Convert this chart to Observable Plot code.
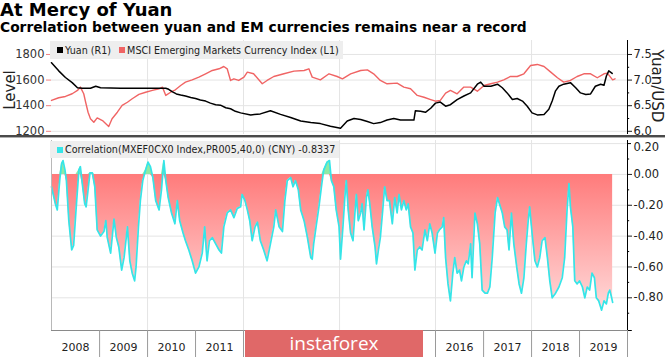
<!DOCTYPE html>
<html>
<head>
<meta charset="utf-8">
<script src="https://cdn.jsdelivr.net/npm/d3@7"></script>
<script src="https://cdn.jsdelivr.net/npm/@observablehq/plot@0.6"></script>
<style>
html,body{margin:0;padding:0;background:#fff;}
#wrap{position:relative;width:665px;height:357px;overflow:hidden;background:#fff;font-family:"DejaVu Sans",sans-serif;color:#111;}
#wrap > div{position:absolute;}
#title{left:0px;top:0px;font-weight:bold;font-size:18px;line-height:20px;white-space:nowrap;color:#000;}
#subtitle{left:0px;top:19px;font-weight:bold;font-size:13.8px;line-height:16px;white-space:nowrap;color:#000;}
.legend{background:#eeeeee;font-size:9.6px;color:#222;white-space:nowrap;display:flex;align-items:center;padding-right:4px;}
.legend span{flex-shrink:0;}
.sw{display:inline-block;width:6px;height:6px;margin:0 2px 0 7px;}
#sep1{left:0;top:135px;width:665px;height:2px;background:#4a4a4a;}
#sep2{left:0;top:137px;width:665px;height:1px;background:#b0b0b0;}
.rot{font-size:15px;color:#222;white-space:nowrap;}
#wm{left:245px;top:330px;width:178px;height:30px;background:#e06868;color:#fff;font-family:"Open Sans",sans-serif;font-size:19px;text-align:center;line-height:27px;}
</style>
</head>
<body>
<div id="wrap">
  <div id="title">At Mercy of Yuan</div>
  <div id="subtitle">Correlation between yuan and EM currencies remains near a record</div>
  <div id="topRed" style="left:0;top:36px;"></div>
  <div id="topBlack" style="left:0;top:36px;"></div>
  <div id="bottom" style="left:0;top:138px;"></div>
  <div class="legend" style="left:50px;top:41px;height:18px;">
    <span class="sw" style="background:#000"></span><span>Yuan (R1)</span>
    <span class="sw" style="background:#f06464;margin-left:8px"></span><span>MSCI Emerging Markets Currency Index (L1)</span>
  </div>
  <div class="legend" style="left:50px;top:141px;height:17px;">
    <span class="sw" style="background:#35e5e8"></span><span>Correlation(MXEF0CX0 Index,PR005,40,0) (CNY) -0.8337</span>
  </div>
  <div id="sep1"></div>
  <div id="sep2"></div>
  <div class="rot" style="left:10px;top:90px;transform:translate(-50%,-50%) rotate(-90deg);">Level</div>
  <div class="rot" style="left:657px;top:86px;transform:translate(-50%,-50%) rotate(90deg);">Yuan/USD</div>
  <div id="wm">instaforex</div>
</div>
<script>
// ---- data (decimal year, value) ----
const yuanSeries = [
[2008.00,7.34],[2008.15,7.18],[2008.29,7.05],[2008.43,6.95],[2008.54,6.85],[2008.64,6.84],[2008.81,6.84],[2008.92,6.88],
[2009.02,6.85],[2009.44,6.84],[2009.85,6.84],[2010.38,6.84],[2010.44,6.82],[2010.52,6.77],[2010.60,6.73],[2010.69,6.71],
[2010.79,6.69],[2010.90,6.66],[2011.00,6.64],[2011.10,6.61],[2011.21,6.59],[2011.31,6.55],[2011.42,6.52],[2011.52,6.51],
[2011.63,6.46],[2011.73,6.44],[2011.83,6.39],[2011.94,6.36],[2012.15,6.32],[2012.35,6.34],[2012.56,6.40],[2012.77,6.33],
[2012.98,6.27],[2013.19,6.20],[2013.40,6.17],[2013.60,6.15],[2013.81,6.10],[2014.02,6.06],[2014.16,6.20],[2014.30,6.25],
[2014.44,6.23],[2014.58,6.19],[2014.71,6.15],[2014.85,6.17],[2014.99,6.22],[2015.13,6.25],[2015.27,6.22],[2015.55,6.22],
[2015.58,6.40],[2015.69,6.39],[2015.79,6.37],[2015.90,6.45],[2016.00,6.55],[2016.10,6.57],[2016.21,6.49],[2016.31,6.52],
[2016.45,6.62],[2016.59,6.69],[2016.73,6.75],[2016.87,6.92],[2016.94,6.96],[2017.01,6.88],[2017.15,6.88],[2017.29,6.92],
[2017.39,6.85],[2017.49,6.75],[2017.60,6.62],[2017.70,6.64],[2017.81,6.59],[2017.91,6.49],[2018.01,6.36],[2018.12,6.32],
[2018.26,6.33],[2018.36,6.43],[2018.43,6.59],[2018.50,6.79],[2018.57,6.88],[2018.67,6.92],[2018.81,6.95],[2018.92,6.85],
[2019.02,6.75],[2019.13,6.72],[2019.23,6.73],[2019.33,6.88],[2019.44,6.92],[2019.51,6.90],[2019.56,7.08],[2019.61,7.18],
[2019.68,7.13]
];
const msciSeries = [
[2008.00,1441],[2008.15,1462],[2008.29,1472],[2008.43,1493],[2008.54,1519],[2008.60,1545],[2008.67,1493],[2008.71,1427],
[2008.76,1349],[2008.81,1298],[2008.88,1271],[2008.95,1305],[2009.06,1284],[2009.13,1259],[2009.19,1238],[2009.26,1298],
[2009.37,1349],[2009.47,1402],[2009.58,1427],[2009.68,1454],[2009.82,1488],[2009.96,1505],[2010.10,1519],[2010.24,1532],
[2010.31,1545],[2010.38,1480],[2010.48,1505],[2010.58,1524],[2010.69,1558],[2010.79,1584],[2010.93,1602],[2011.07,1623],
[2011.21,1649],[2011.35,1675],[2011.49,1688],[2011.59,1706],[2011.66,1688],[2011.73,1597],[2011.80,1610],[2011.90,1597],
[2012.01,1623],[2012.08,1662],[2012.21,1649],[2012.39,1571],[2012.49,1597],[2012.63,1628],[2012.84,1649],[2013.05,1670],
[2013.26,1675],[2013.36,1688],[2013.43,1623],[2013.60,1602],[2013.78,1649],[2013.95,1628],[2014.06,1610],[2014.23,1649],
[2014.44,1675],[2014.58,1680],[2014.71,1649],[2014.85,1597],[2014.99,1571],[2015.20,1576],[2015.34,1545],[2015.48,1532],
[2015.62,1480],[2015.76,1466],[2015.90,1448],[2016.00,1435],[2016.10,1441],[2016.21,1498],[2016.31,1519],[2016.45,1493],
[2016.59,1545],[2016.73,1545],[2016.87,1513],[2017.01,1558],[2017.15,1571],[2017.29,1584],[2017.42,1602],[2017.56,1628],
[2017.70,1628],[2017.84,1649],[2017.98,1714],[2018.12,1722],[2018.26,1706],[2018.40,1662],[2018.54,1618],[2018.67,1584],
[2018.81,1597],[2018.95,1628],[2019.09,1649],[2019.23,1649],[2019.37,1618],[2019.51,1649],[2019.58,1654],[2019.69,1602],
[2019.74,1610]
];
const corrSeries = [
[2008.00,-0.08],[2008.08,-0.19],[2008.12,-0.23],[2008.17,-0.04],[2008.21,0.07],[2008.24,0.09],[2008.28,0.03],[2008.31,-0.04],
[2008.36,-0.30],[2008.42,-0.49],[2008.46,-0.46],[2008.51,-0.23],[2008.57,0.03],[2008.60,0.05],[2008.64,-0.06],[2008.69,-0.19],
[2008.72,-0.21],[2008.76,-0.10],[2008.80,0.01],[2008.85,0.01],[2008.90,-0.08],[2008.95,-0.36],[2009.02,-0.40],[2009.09,-0.37],
[2009.13,-0.30],[2009.16,-0.41],[2009.23,-0.51],[2009.30,-0.29],[2009.35,-0.41],[2009.40,-0.47],[2009.46,-0.62],[2009.51,-0.54],
[2009.58,-0.34],[2009.63,-0.56],[2009.68,-0.64],[2009.73,-0.69],[2009.76,-0.60],[2009.81,-0.34],[2009.85,-0.17],[2009.90,-0.04],
[2009.96,0.03],[2010.01,0.08],[2010.06,0.05],[2010.11,-0.02],[2010.17,-0.17],[2010.24,-0.23],[2010.29,-0.10],[2010.34,0.09],
[2010.38,-0.04],[2010.43,-0.15],[2010.50,-0.25],[2010.57,-0.32],[2010.62,-0.17],[2010.67,-0.30],[2010.74,-0.38],[2010.79,-0.43],
[2010.86,-0.49],[2010.93,-0.56],[2011.00,-0.64],[2011.07,-0.60],[2011.14,-0.51],[2011.19,-0.34],[2011.24,-0.56],[2011.29,-0.43],
[2011.35,-0.41],[2011.42,-0.45],[2011.49,-0.49],[2011.54,-0.51],[2011.59,-0.34],[2011.66,-0.25],[2011.73,-0.23],[2011.80,-0.28],
[2011.87,-0.22],[2011.94,-0.21],[2011.97,-0.13],[2012.03,-0.17],[2012.08,-0.23],[2012.13,-0.30],[2012.18,-0.43],[2012.24,-0.34],
[2012.29,-0.31],[2012.35,-0.43],[2012.42,-0.49],[2012.49,-0.56],[2012.56,-0.45],[2012.63,-0.34],[2012.67,-0.23],[2012.74,-0.34],
[2012.81,-0.37],[2012.86,-0.17],[2012.91,-0.04],[2012.98,-0.02],[2013.03,-0.08],[2013.08,-0.04],[2013.14,-0.10],[2013.19,-0.23],
[2013.26,-0.30],[2013.33,-0.41],[2013.40,-0.54],[2013.43,-0.55],[2013.46,-0.45],[2013.51,-0.34],[2013.57,-0.21],[2013.63,-0.06],
[2013.67,0.03],[2013.74,0.08],[2013.79,0.09],[2013.83,-0.04],[2013.88,-0.08],[2013.93,-0.23],[2013.99,-0.34],[2014.02,-0.55],
[2014.07,-0.34],[2014.11,-0.15],[2014.14,-0.04],[2014.18,-0.23],[2014.23,-0.38],[2014.28,-0.43],[2014.32,-0.25],[2014.35,-0.13],
[2014.39,-0.30],[2014.44,-0.25],[2014.47,-0.19],[2014.51,-0.36],[2014.56,-0.15],[2014.59,-0.10],[2014.63,-0.19],[2014.68,-0.34],
[2014.74,-0.47],[2014.77,-0.58],[2014.81,-0.49],[2014.85,-0.41],[2014.90,-0.23],[2014.94,-0.08],[2014.99,-0.17],[2015.04,-0.17],
[2015.10,-0.32],[2015.15,-0.15],[2015.20,-0.25],[2015.24,-0.13],[2015.29,-0.23],[2015.34,-0.17],[2015.39,-0.23],[2015.43,-0.19],
[2015.48,-0.34],[2015.53,-0.38],[2015.57,-0.62],[2015.62,-0.49],[2015.67,-0.47],[2015.72,-0.49],[2015.78,-0.36],[2015.83,-0.43],
[2015.88,-0.32],[2015.93,-0.38],[2015.99,-0.51],[2016.04,-0.38],[2016.08,-0.36],[2016.14,-0.34],[2016.17,-0.28],[2016.21,-0.54],
[2016.26,-0.71],[2016.31,-0.82],[2016.36,-0.64],[2016.40,-0.54],[2016.45,-0.64],[2016.50,-0.62],[2016.54,-0.69],[2016.59,-0.60],
[2016.64,-0.56],[2016.68,-0.58],[2016.73,-0.45],[2016.76,-0.67],[2016.82,-0.25],[2016.87,-0.32],[2016.92,-0.45],[2016.97,-0.75],
[2017.03,-0.77],[2017.08,-0.77],[2017.13,-0.73],[2017.18,-0.54],[2017.24,-0.25],[2017.29,-0.15],[2017.33,-0.19],[2017.39,-0.25],
[2017.44,-0.34],[2017.49,-0.36],[2017.53,-0.49],[2017.58,-0.25],[2017.63,-0.45],[2017.69,-0.60],[2017.74,-0.71],[2017.79,-0.77],
[2017.84,-0.67],[2017.89,-0.45],[2017.93,-0.30],[2017.96,-0.21],[2018.01,-0.38],[2018.07,-0.56],[2018.12,-0.60],[2018.17,-0.54],
[2018.22,-0.43],[2018.28,-0.41],[2018.33,-0.54],[2018.38,-0.69],[2018.43,-0.80],[2018.50,-0.77],[2018.57,-0.73],[2018.64,-0.67],
[2018.69,-0.54],[2018.74,-0.23],[2018.78,-0.06],[2018.81,-0.21],[2018.86,-0.34],[2018.90,-0.69],[2018.95,-0.71],[2019.00,-0.69],
[2019.06,-0.73],[2019.11,-0.80],[2019.16,-0.73],[2019.21,-0.75],[2019.26,-0.64],[2019.31,-0.67],[2019.35,-0.80],[2019.40,-0.82],
[2019.46,-0.88],[2019.51,-0.82],[2019.56,-0.84],[2019.60,-0.77],[2019.63,-0.75],[2019.67,-0.80],[2019.69,-0.83]
];
const levelTicks = [1200, 1400, 1600, 1800];
const yuanTicks = [6.0, 6.5, 7.0, 7.5];
const yuanMinor = [6.25, 6.75, 7.25];
const corrTicks = [0.0, -0.2, -0.4, -0.6, -0.8];
const corrTopTick = [0.2];
const corrMinor = [0.1, -0.1, -0.3, -0.5, -0.7, -0.9];
const corrGrid = [0.2, 0.0, -0.2, -0.4, -0.6, -0.8];
// year labels visible in the reference (2012-2015 are hidden under the watermark)
const years = [2008, 2009, 2010, 2011, 2016, 2017, 2018, 2019];
const yearBounds = [2009, 2010, 2011, 2012, 2013, 2014, 2015, 2016, 2017, 2018, 2019, 2020];
const gridYears = [2010, 2012, 2014, 2016, 2018];

// ---- helpers ----
function dec(t){ const y = Math.floor(t + 1e-9); const a = Date.UTC(y,0,1), b = Date.UTC(y+1,0,1); return new Date(a + (t - y) * (b - a)); }
const rows = s => s.map(([t, v]) => ({date: dec(t), value: v}));
const X0 = dec(2008), X1 = dec(2020);
const W = 665, ML = 51, MR = 38;
const xOpt = {type: "utc", domain: [X0, X1], axis: null};
const baseStyle = {background: "transparent", fontFamily: "DejaVu Sans", overflow: "visible", color: "#222"};
const grid = "#e4e4e4";

// ---- top panel: MSCI (left axis) ----
const topRed = Plot.plot({
  width: W, height: 98, marginLeft: ML, marginRight: MR, marginTop: 4, marginBottom: 0,
  style: baseStyle,
  x: xOpt,
  y: {domain: [1175, 1909], label: null},
  marks: [
    Plot.ruleY(levelTicks, {stroke: grid}),
    Plot.ruleX(gridYears, {x: d => dec(d), stroke: grid}),
    Plot.axisY({anchor: "left", ticks: levelTicks, tickFormat: d => String(d), tickSize: 5, tickPadding: 2, fontSize: 11.5, color: "#333", stroke: "#f08080", label: null}),
    Plot.line(rows(msciSeries), {x: "date", y: "value", stroke: "#f06464", strokeWidth: 1.4})
  ]
});
document.getElementById("topRed").appendChild(topRed);

// ---- top panel: Yuan (right axis) ----
const topBlack = Plot.plot({
  width: W, height: 98, marginLeft: ML, marginRight: MR, marginTop: 4, marginBottom: 0,
  style: baseStyle,
  x: xOpt,
  y: {domain: [5.9375, 7.773], label: null},
  marks: [
    Plot.ruleX([X1], {stroke: "#000"}),
    Plot.axisY({anchor: "right", ticks: yuanTicks, tickFormat: d => d.toFixed(1), tickSize: 4, tickPadding: 2, fontSize: 11.5, color: "#222", label: null}),
    Plot.ruleY(yuanMinor, {x1: () => X1, x2: () => dec(2020.045), stroke: "#000"}),
    Plot.line(rows(yuanSeries), {x: "date", y: "value", stroke: "#000", strokeWidth: 1.5})
  ]
});
document.getElementById("topBlack").appendChild(topBlack);

// ---- bottom panel: correlation ----
const corr = rows(corrSeries);
const yBot = -1.012;
const bottom = Plot.plot({
  width: W, height: 219, marginLeft: ML, marginRight: MR, marginTop: 2, marginBottom: 27,
  style: baseStyle,
  x: xOpt,
  y: {domain: [yBot, 0.22], label: null},
  marks: [
    Plot.ruleY(corrGrid, {stroke: grid}),
    Plot.ruleX(gridYears, {x: d => dec(d), stroke: grid}),
    Plot.areaY(corr, {x: "date", y1: 0, y2: d => Math.min(0, d.value), fill: "url(#corrGrad)"}),
    Plot.areaY(corr, {x: "date", y1: 0, y2: d => Math.max(0, d.value), fill: "#8fe9a4"}),
    Plot.line(corr, {x: "date", y: "value", stroke: "#35e5e8", strokeWidth: 1.7}),
    Plot.ruleX([X0], {stroke: "#b8b8b8"}),
    Plot.ruleY([yBot], {stroke: "#8a8a8a"}),
    Plot.ruleX([X1], {stroke: "#000"}),
    Plot.ruleY([yBot], {x1: () => X1, x2: () => dec(2020.1), stroke: "#000"}),
    Plot.axisY({anchor: "right", ticks: corrTicks, tickFormat: d => d.toFixed(2), tickSize: 4, tickPadding: 2, fontSize: 11.5, color: "#222", label: null}),
    Plot.ruleY(corrTopTick, {x1: () => X1, x2: () => dec(2020.083), stroke: "#000"}),
    Plot.text(corrTopTick, {x: () => X1, y: d => d, text: d => d.toFixed(2), dx: 6, dy: 4, textAnchor: "start", fontSize: 11.5, fill: "#222"}),
    Plot.ruleY(corrMinor, {x1: () => X1, x2: () => dec(2020.045), stroke: "#000"}),
    Plot.ruleX(yearBounds, {x: d => dec(d), y1: () => yBot, y2: () => -1.2, stroke: "#9a9a9a"}),
    Plot.text(years, {x: d => dec(d + 0.5), y: () => -1.122, text: d => String(d), fontSize: 11, fill: "#222"})
  ]
});
d3.select(bottom).insert("defs", ":first-child").html(
  '<linearGradient id="corrGrad" gradientUnits="userSpaceOnUse" x1="0" y1="36" x2="0" y2="176">' +
  '<stop offset="0" stop-color="#ff7b7b"/><stop offset="1" stop-color="#ffdcdc"/></linearGradient>');
document.getElementById("bottom").appendChild(bottom);
</script>
</body>
</html>
